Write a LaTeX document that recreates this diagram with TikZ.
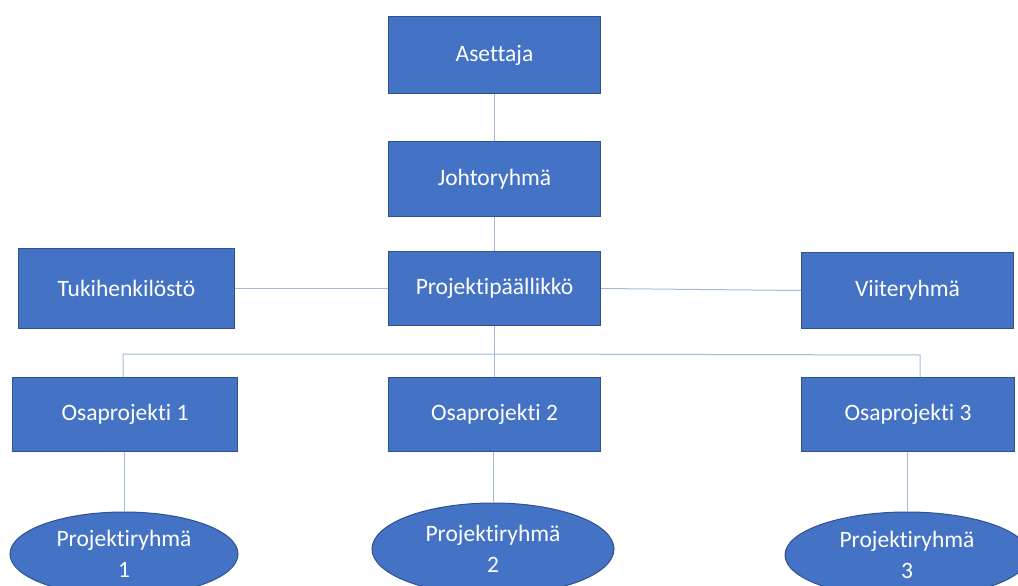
\documentclass[tikz,border=0pt]{standalone}
\usepackage{fontspec}
\setmainfont{Carlito}[Ligatures=NoCommon]
\usetikzlibrary{shapes.geometric}
\definecolor{boxfill}{HTML}{4472C4}
\definecolor{boxline}{HTML}{2F528F}
\definecolor{conn}{HTML}{A5B8E0}
\begin{document}
\begin{tikzpicture}[x=1pt,y=-1pt,
  box/.style={draw=boxline,line width=1pt,fill=boxfill,text=white,font=\fontsize{23.5}{28}\selectfont,anchor=north west,inner sep=0pt},
  oval/.style={ellipse,draw=boxline,line width=1pt,fill=boxfill,text=white,font=\fontsize{23.5}{31}\selectfont,align=center,inner sep=0pt},
  link/.style={draw=conn,line width=1pt}]
\useasboundingbox (0,0) rectangle (1018,586);
\clip (0,0) rectangle (1018,586);
\coordinate (busL) at (123,354);
\coordinate (busM) at (494,354);
\coordinate (busR) at (920,355);
% boxes
\node[box,minimum width=212pt,minimum height=77pt] (ase) at (388,16) {Asettaja};
\node[box,minimum width=212pt,minimum height=75pt] (joh) at (388,141) {Johtoryhmä};
\node[box,minimum width=216pt,minimum height=80pt] (tuk) at (18,248) {Tukihenkilöstö};
\node[box,minimum width=212pt,minimum height=74pt] (pp) at (388,251) {Projektipäällikkö};
\node[box,minimum width=212pt,minimum height=76pt] (vii) at (801,252) {Viiteryhmä};
\node[box,minimum width=225pt,minimum height=74pt] (op1) at (12,377) {Osaprojekti 1};
\node[box,minimum width=212pt,minimum height=74pt] (op2) at (388,377) {Osaprojekti 2};
\node[box,minimum width=213pt,minimum height=74pt] (op3) at (801,377) {Osaprojekti 3};
% ellipses
\node[oval,minimum width=228pt,minimum height=84pt] (pr1) at (124,554) {Projektiryhmä\\1};
\node[oval,minimum width=242pt,minimum height=92pt] (pr2) at (493,549) {Projektiryhmä\\2};
\node[oval,minimum width=244pt,minimum height=86pt] (pr3) at (907,555) {Projektiryhmä\\3};
% connectors
\draw[link] (ase.south -| 494,0) -- (joh.north -| 494,0);
\draw[link] (joh.south -| 494,0) -- (pp.north -| 494,0);
\draw[link] (tuk.east) -- (pp.west);
\draw[link] (pp.east) -- (vii.west);
\draw[link] (pp.south -| busM) -- (busM);
\draw[link] (op1.north -| busL) -- (busL) -- (busM) -- (busR) -- (op3.north -| busR);
\draw[link] (busM) -- (op2.north -| busM);
\draw[link] (op1.south -| pr1.north) -- (pr1.north);
\draw[link] (op2.south -| pr2.north) -- (pr2.north);
\draw[link] (op3.south -| pr3.north) -- (pr3.north);
\end{tikzpicture}
\end{document}
